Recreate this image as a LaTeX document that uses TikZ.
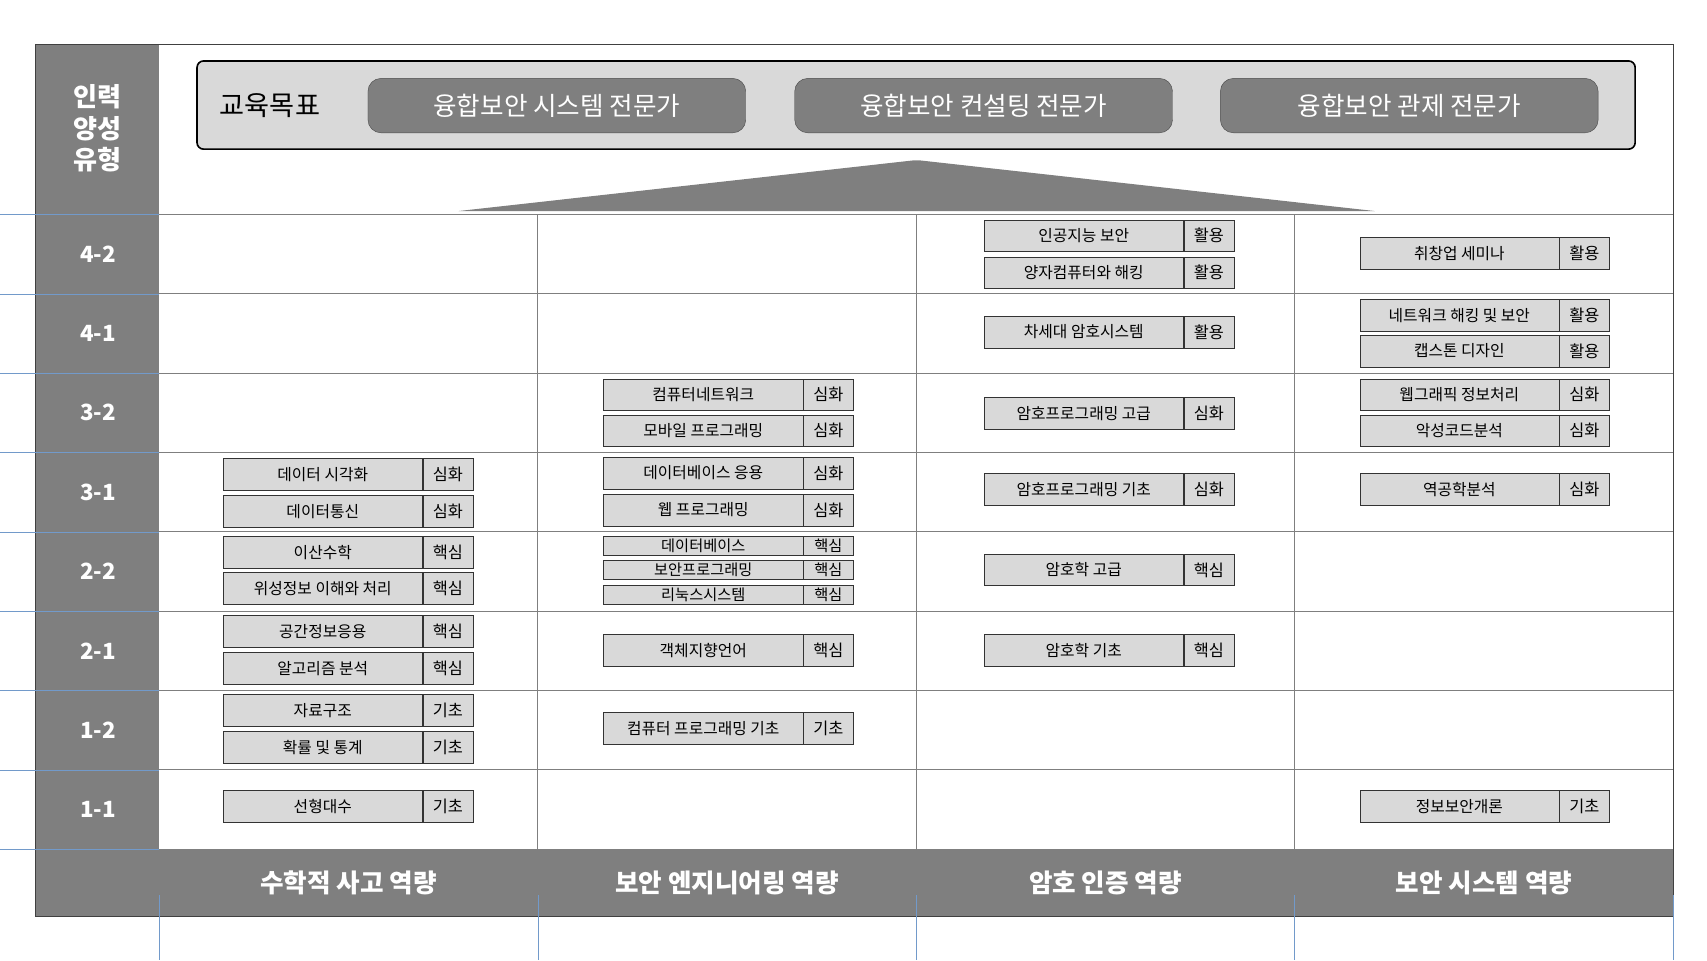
\documentclass[tikz,border=0pt]{standalone}
\usepackage{fontspec}
\setmainfont{Noto Sans CJK KR}
\usetikzlibrary{positioning}
\definecolor{mygray}{RGB}{127,127,127}
\definecolor{mylight}{RGB}{217,217,217}
\definecolor{myblue}{RGB}{79,129,189}

\begin{document}
\begin{tikzpicture}[x=1pt, y=-1pt]
\tikzset{CourseStyle/.style =
    {draw=black!80, fill=mylight, minimum width=183pt, minimum height=29pt, inner sep=0pt, font=\fontsize{14.5}{14.5}\selectfont}
}
\tikzset{SmallCourseStyle/.style = {CourseStyle, minimum height=17pt, font=\fontsize{14}{14}\selectfont}}
\tikzset{TagStyle/.style = {draw=black!80, fill=mylight, minimum width=46pt, minimum height=29pt, inner sep=0pt, font=\fontsize{15}{15}\selectfont}}
\tikzset{SmallTagStyle/.style = {TagStyle, minimum height=17pt, font=\fontsize{14}{14}\selectfont}}
\tikzset{RowLabelStyle/.style = {text=white, font=\bfseries\fontsize{20.5}{20.5}\selectfont}}
\tikzset{TitleStyle/.style = {text=white, font=\bfseries\fontsize{23.5}{23.5}\selectfont}}
\tikzset{GoalStyle/.style = {draw=black!70, fill=mygray, rounded corners=12pt, minimum width=347pt, minimum height=50pt, text=white, font=\fontsize{23.5}{23.5}\selectfont}}
\tikzset{GridStyle/.style = {draw=mygray, line width=1.1pt}}
\tikzset{GuideStyle/.style = {draw=myblue!80, line width=0.5pt}}
\useasboundingbox (0,0) rectangle (1568,882);
% frame and grey bands
\fill[mygray] (33,41) rectangle (146,842);
\fill[mygray] (146,780) rectangle (1537,842);
\foreach \index in {0,...,8}
    \draw[GridStyle] (146,{197+72.875*\index}) -- (1537,{197+72.875*\index});
\foreach \xpos in {494, 842, 1189}
    \draw[GridStyle] (\xpos,197) -- (\xpos,780);
\draw[black!75, line width=1pt] (33,41) rectangle (1537,842);
% guide lines
\foreach \index in {0,...,8}
    \draw[GuideStyle] (0,{197+72.875*\index}) -- (146,{197+72.875*\index});
\foreach \xpos in {146, 494, 842, 1189, 1537}
    \draw[GuideStyle] (\xpos,822) -- (\xpos,882);
% left labels
\node[RowLabelStyle, align=center, font=\bfseries\fontsize{24}{29}\selectfont] (type) at (90,118) {인력\\양성\\유형};
\foreach \index/\name in {1/4-2, 2/4-1, 3/3-2, 4/3-1, 5/2-2, 6/2-1, 7/1-2, 8/1-1}
    \node[RowLabelStyle] (row-\name) at (90,{197+72.875*(\index-0.5)}) {\name};
% bottom titles
\node[TitleStyle] (area-1) at (320,811) {수학적 사고 역량};
\node[TitleStyle] (area-2) at (668,811) {보안 엔지니어링 역량};
\node[TitleStyle] (area-3) at (1015.5,811) {암호 인증 역량};
\node[TitleStyle] (area-4) at (1363,811) {보안 시스템 역량};
% goals
\draw[black, fill=mylight, line width=1.5pt, rounded corners=6pt] (181,56) rectangle (1502,137);
\node[font=\fontsize{25}{25}\selectfont] (goal) at (248,97) {교육목표};
\node[GoalStyle] (goal-1) at (511.5,97) {융합보안 시스템 전문가};
\node[GoalStyle] (goal-2) at (903.5,97) {융합보안 컨설팅 전문가};
\node[GoalStyle] (goal-3) at (1294.5,97) {융합보안 관제 전문가};
\fill[mygray, rounded corners=2pt] (420,194) -- (842,147) -- (1264,194) -- cycle;
% courses
\foreach \x/\y/\name/\tag [count=\i] in {
    296.5/435.5/데이터 시각화/심화, 296.5/469.5/데이터통신/심화,
    296.5/507.5/이산수학/핵심, 296.5/540.5/위성정보 이해와 처리/핵심,
    296.5/580/공간정보응용/핵심, 296.5/614/알고리즘 분석/핵심,
    296.5/652.5/자료구조/기초, 296.5/686.5/확률 및 통계/기초,
    296.5/740.5/선형대수/기초,
    646/362.5/컴퓨터네트워크/심화, 646/395.5/모바일 프로그래밍/심화,
    646/434.5/데이터베이스 응용/심화, 646/468.5/웹 프로그래밍/심화,
    646/597.5/객체지향언어/핵심, 646/669/컴퓨터 프로그래밍 기초/기초,
    995.5/216.5/인공지능 보안/활용, 995.5/250.5/양자컴퓨터와 해킹/활용,
    995.5/305/차세대 암호시스템/활용, 995.5/379.5/암호프로그래밍 고급/심화,
    995.5/449.5/암호프로그래밍 기초/심화, 995.5/523.5/암호학 고급/핵심,
    995.5/597.5/암호학 기초/핵심,
    1340.5/232.5/취창업 세미나/활용, 1340.5/289.5/네트워크 해킹 및 보안/활용,
    1340.5/322.5/캡스톤 디자인/활용, 1340.5/362.5/웹그래픽 정보처리/심화,
    1340.5/395.5/악성코드분석/심화, 1340.5/449.5/역공학분석/심화,
    1340.5/740.5/정보보안개론/기초}
{
    \node[CourseStyle] (course-\i) at (\x,\y) {\name};
    \node[TagStyle, right=0pt of course-\i] (course-\i-tag) {\tag};
}
\foreach \y/\name [count=\i] in {501.5/데이터베이스, 523.5/보안프로그래밍, 546.5/리눅스시스템}
{
    \node[SmallCourseStyle] (small-\i) at (646,\y) {\name};
    \node[SmallTagStyle, right=0pt of small-\i] (small-\i-tag) {핵심};
}
\end{tikzpicture}
\end{document}
